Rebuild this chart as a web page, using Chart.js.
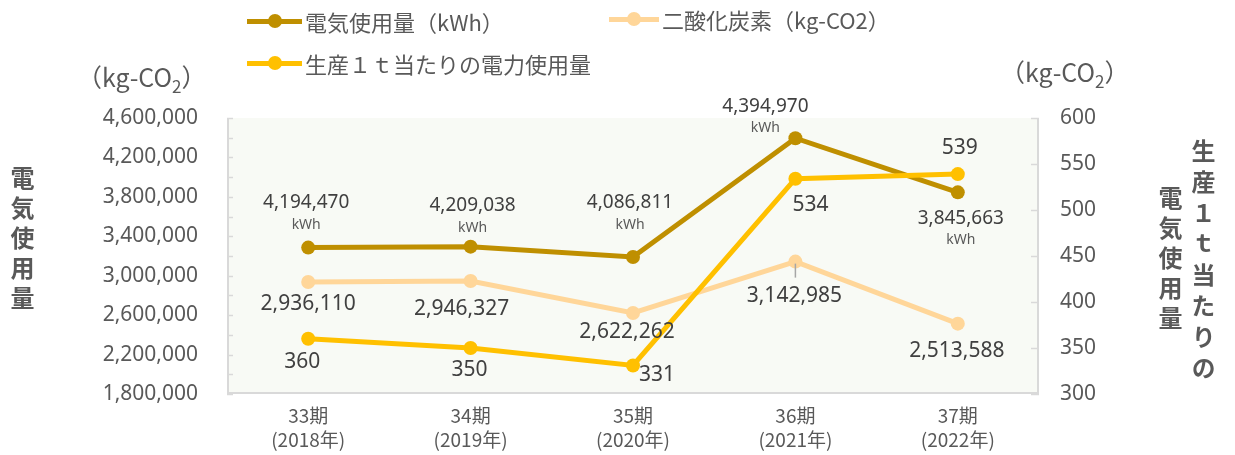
<!DOCTYPE html>
<html lang="ja">
<head>
<meta charset="utf-8">
<script src="https://cdn.jsdelivr.net/npm/chart.js@4.4.1/dist/chart.umd.min.js"></script>
<style>
  html, body { margin: 0; padding: 0; background: #fff; }
  .wrap { position: relative; width: 1235px; height: 455px; font-family: "Noto Sans CJK JP", sans-serif; color: #595959; }
  .wrap canvas { position: absolute; left: 0; top: 0; }
  .legend-item { position: absolute; display: flex; align-items: center; height: 30px; font-size: 22px; white-space: nowrap; }
  .swatch { position: relative; width: 55px; height: 5px; margin-right: 3px; }
  .swatch::after { content: ''; position: absolute; left: 50%; top: 50%; width: 14px; height: 14px; margin: -7px 0 0 -7px; border-radius: 50%; background: inherit; }
  .unit { position: absolute; font-size: 25px; line-height: 1; white-space: nowrap; }
  .unit sub { font-size: 17px; vertical-align: -6px; line-height: 0; }
  .vtitle { position: absolute; writing-mode: vertical-rl; font-size: 24px; font-weight: bold; line-height: 1; letter-spacing: 6px; }
</style>
</head>
<body>
<div class="wrap">
  <canvas id="chart"></canvas>

  <div class="legend-item" style="left:247px; top:6px;"><span class="swatch" style="background:#bf8f00"></span>電気使用量（kWh）</div>
  <div class="legend-item" style="left:609px; top:4px;"><span class="swatch" style="background:#ffd699; width:50px"></span>二酸化炭素（kg-CO2）</div>
  <div class="legend-item" style="left:247px; top:48px;"><span class="swatch" style="background:#ffc000"></span>生産１ｔ当たりの電力使用量</div>

  <div class="unit" style="left:77px; top:64px;">（kg-CO<sub>2</sub>）</div>
  <div class="unit" style="left:1000px; top:59px;">（kg-CO<sub>2</sub>）</div>

  <div class="vtitle" style="left:10px; top:166px;">電気使用量</div>
  <div class="vtitle" style="left:1191px; top:139px; letter-spacing:7px;">生産１ｔ当たりの</div>
  <div class="vtitle" style="left:1158px; top:186px;">電気使用量</div>
</div>

<script>
// Categories (two-line tick labels)
const periods = [
  ['33期', '(2018年)'],
  ['34期', '(2019年)'],
  ['35期', '(2020年)'],
  ['36期', '(2021年)'],
  ['37期', '(2022年)']
];

// Electricity use: recorded values shown in the labels, and where the
// original chart actually plots the line on the left axis
const kwhLabels = [4194470, 4209038, 4086811, 4394970, 3845663];
const kwhPlot = [3285000, 3295000, 3190000, 4394970, 3845663];

// CO2 (kg-CO2), left axis
const co2Values = [2936110, 2946327, 2622262, 3142985, 2513588];

// Electricity per 1t produced, right axis
const perTonValues = [360, 350, 331, 534, 539];

// Axis ranges
const leftMin = 1800000, leftMax = 4600000, leftStep = 400000;
const rightMin = 300, rightMax = 600, rightStep = 50;

const fmt = n => n.toLocaleString('en-US');

// plot area background, frame and small inward tick marks
const frame = {
  id: 'frame',
  beforeDatasetsDraw(chart) {
    const { ctx, chartArea: a, scales } = chart;
    ctx.save();
    ctx.fillStyle = '#f8faf5';
    ctx.fillRect(a.left, a.top, a.right - a.left, a.bottom - a.top);
    ctx.strokeStyle = '#d9d9d9';
    ctx.lineWidth = 2;
    ctx.beginPath();
    ctx.moveTo(a.left + 1, a.top);
    ctx.lineTo(a.left + 1, a.bottom - 1);
    ctx.lineTo(a.right - 1, a.bottom - 1);
    ctx.lineTo(a.right - 1, a.top);
    ctx.stroke();
    ctx.lineWidth = 1.5;
    ctx.beginPath();
    for (let v = leftMin; v <= leftMax; v += leftStep / 2) {
      const y = Math.round(scales.y.getPixelForValue(v)) + 0.5;
      ctx.moveTo(a.left, y);
      ctx.lineTo(a.left + 6, y);
    }
    for (let v = rightMin; v <= rightMax; v += rightStep) {
      const y = Math.round(scales.y1.getPixelForValue(v)) + 0.5;
      ctx.moveTo(a.right, y);
      ctx.lineTo(a.right - 8, y);
    }
    ctx.stroke();
    ctx.restore();
  }
};

// value labels next to each point
const valueLabels = {
  id: 'valueLabels',
  afterDatasetsDraw(chart) {
    const ctx = chart.ctx;
    ctx.save();
    ctx.textAlign = 'center';
    ctx.textBaseline = 'middle';
    chart.data.datasets.forEach((ds, i) => {
      const meta = chart.getDatasetMeta(i);
      meta.data.forEach((pt, j) => {
        const [dx, dy] = ds.labelOffsets[j];
        const x = pt.x + dx, y = pt.y + dy;
        if (ds.leaders && ds.leaders[j]) {
          ctx.strokeStyle = '#a6a6a6';
          ctx.lineWidth = 1.5;
          ctx.beginPath();
          ctx.moveTo(pt.x, pt.y + 2);
          ctx.lineTo(pt.x, pt.y + 16);
          ctx.stroke();
        }
        ctx.fillStyle = '#404040';
        ctx.font = ds.labelFont;
        ctx.fillText(ds.labelTexts[j], x, y);
        if (ds.labelUnit) {
          ctx.font = '14px "Noto Sans"';
          ctx.fillStyle = '#595959';
          ctx.fillText(ds.labelUnit, x, y + 22);
        }
      });
    });
    ctx.restore();
  }
};

const lineStyle = color => ({
  borderColor: color,
  backgroundColor: color,
  borderWidth: 5,
  pointRadius: 7,
  pointHoverRadius: 7,
  pointBorderWidth: 0,
  tension: 0,
  fill: false
});

const ctx = document.getElementById('chart').getContext('2d');
new Chart(ctx, {
  type: 'line',
  data: {
    labels: periods,
    datasets: [
      {
        ...lineStyle('#bf8f00'),
        label: '電気使用量（kWh）',
        data: kwhPlot,
        yAxisID: 'y',
        order: 2,
        labelTexts: kwhLabels.map(fmt),
        labelUnit: 'kWh',
        labelFont: '19px "Noto Sans"',
        labelOffsets: [[-2, -45], [2, -41], [-3, -54], [-30, -32], [3, 26]]
      },
      {
        ...lineStyle('#ffd699'),
        label: '二酸化炭素（kg-CO2）',
        data: co2Values,
        yAxisID: 'y',
        order: 3,
        labelTexts: co2Values.map(fmt),
        labelFont: '21px "Noto Sans"',
        labelOffsets: [[0, 22], [-9, 28], [-6, 19], [-1, 34], [-1, 27]],
        leaders: [false, false, false, true, false]
      },
      {
        ...lineStyle('#ffc000'),
        label: '生産１ｔ当たりの電力使用量',
        data: perTonValues,
        yAxisID: 'y1',
        order: 1,
        labelTexts: perTonValues.map(fmt),
        labelFont: '21px "Noto Sans"',
        labelOffsets: [[-6, 23], [-1, 22], [24, 10], [15, 26], [2, -26]]
      }
    ]
  },
  options: {
    responsive: true,
    maintainAspectRatio: false,
    animation: false,
    layout: { padding: { top: 118, left: 0, right: 0, bottom: 0 } },
    plugins: {
      legend: { display: false },
      tooltip: { enabled: false }
    },
    scales: {
      x: {
        offset: true,
        grid: { display: false, drawTicks: false },
        border: { display: false },
        ticks: {
          color: '#595959',
          padding: 10,
          maxRotation: 0,
          font: { family: '"Noto Sans CJK JP"', size: 19, lineHeight: 1.25 }
        },
        afterFit: scale => { scale.height = 61; }
      },
      y: {
        position: 'left',
        min: leftMin,
        max: leftMax,
        grid: { display: false, drawTicks: false },
        border: { display: false },
        ticks: {
          stepSize: leftStep,
          padding: 29,
          color: '#595959',
          font: { family: '"Noto Sans"', size: 21 },
          callback: v => fmt(v)
        },
        afterFit: scale => { scale.width = 227; }
      },
      y1: {
        position: 'right',
        min: rightMin,
        max: rightMax,
        grid: { display: false, drawTicks: false },
        border: { display: false },
        ticks: {
          stepSize: rightStep,
          padding: 21,
          color: '#595959',
          font: { family: '"Noto Sans"', size: 21 }
        },
        afterFit: scale => { scale.width = 196; }
      }
    }
  },
  plugins: [frame, valueLabels]
});
</script>
</body>
</html>
